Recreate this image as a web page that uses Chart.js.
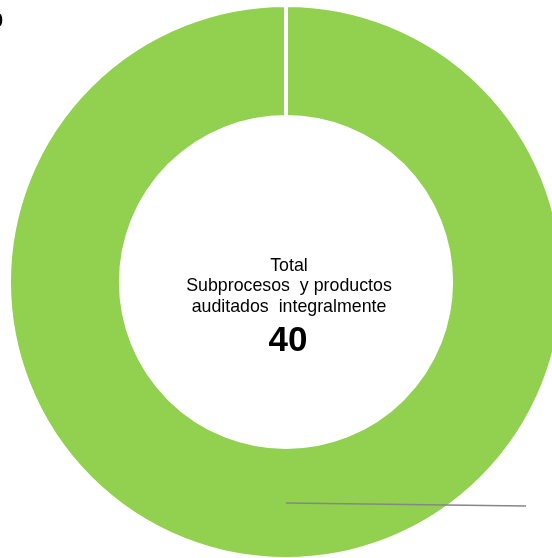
<!DOCTYPE html>
<html>
<head>
<meta charset="utf-8">
<script src="https://cdn.jsdelivr.net/npm/chart.js@4"></script>
<style>
  html, body { margin: 0; padding: 0; background: #ffffff; overflow: hidden; }
  #wrap { position: relative; width: 600px; height: 570px; }
</style>
</head>
<body>
<div id="wrap"><canvas id="c" width="600" height="570"></canvas></div>
<script>
// Audited items, by category
const categories = ['Auditados integralmente', 'Otros'];
const values = [40, 0];
const sliceColors = ['#92D050', '#5B9BD5'];

// Centre caption lines
const captionLines = ['Total', 'Subprocesos  y productos', 'auditados  integralmente'];

const centerTextPlugin = {
  id: 'centerText',
  afterDraw(chart) {
    const arc = chart.getDatasetMeta(0).data[0];
    if (!arc) return;
    const ctx = chart.ctx;
    const cx = arc.x + 3;
    const cy = arc.y;
    const total = chart.data.datasets[0].data.reduce((a, b) => a + b, 0);
    ctx.save();
    ctx.fillStyle = '#000000';
    ctx.textAlign = 'center';
    ctx.textBaseline = 'middle';
    ctx.font = '17.8px "Liberation Sans", Arial, sans-serif';
    const lh = 20.5;
    captionLines.forEach((t, i) => {
      ctx.fillText(t, cx, cy - 16 + i * lh);
    });
    ctx.font = 'bold 35px "Liberation Sans", Arial, sans-serif';
    ctx.fillText(String(total), cx - 1, cy + 59);
    ctx.restore();
  }
};

const calloutPlugin = {
  id: 'callouts',
  afterDraw(chart) {
    const meta = chart.getDatasetMeta(0);
    const ctx = chart.ctx;
    const area = chart.chartArea;
    const data = chart.data.datasets[0].data;
    ctx.save();
    meta.data.forEach((arc, i) => {
      const p = arc.getCenterPoint();
      if (data[i] > 0) {
        // leader line running out to the right
        const ex = p.x + 240;
        const ey = p.y + 3;
        ctx.strokeStyle = '#868686';
        ctx.lineWidth = 1.6;
        ctx.beginPath();
        ctx.moveTo(p.x, p.y);
        ctx.lineTo(ex, ey);
        ctx.stroke();
        ctx.fillStyle = '#000000';
        ctx.font = 'bold 20px "Liberation Sans", Arial, sans-serif';
        ctx.textAlign = 'left';
        ctx.textBaseline = 'middle';
        ctx.fillText(String(data[i]), ex + 40, ey);
      } else {
        ctx.fillStyle = '#000000';
        ctx.font = 'bold 20px "Liberation Sans", Arial, sans-serif';
        ctx.textAlign = 'right';
        ctx.textBaseline = 'middle';
        ctx.fillText(String(data[i]), area.left - 4, area.top + 18.5);
      }
    });
    ctx.restore();
  }
};

new Chart(document.getElementById('c'), {
  type: 'doughnut',
  data: {
    labels: categories,
    datasets: [{
      data: values,
      backgroundColor: sliceColors,
      borderColor: '#ffffff',
      borderWidth: 4
    }]
  },
  options: {
    responsive: false,
    animation: false,
    cutout: '59.6%',
    layout: { padding: { left: 7, top: 3, right: 35, bottom: 9 } },
    plugins: {
      legend: { display: false },
      tooltip: { enabled: false }
    }
  },
  plugins: [centerTextPlugin, calloutPlugin]
});
</script>
</body>
</html>
